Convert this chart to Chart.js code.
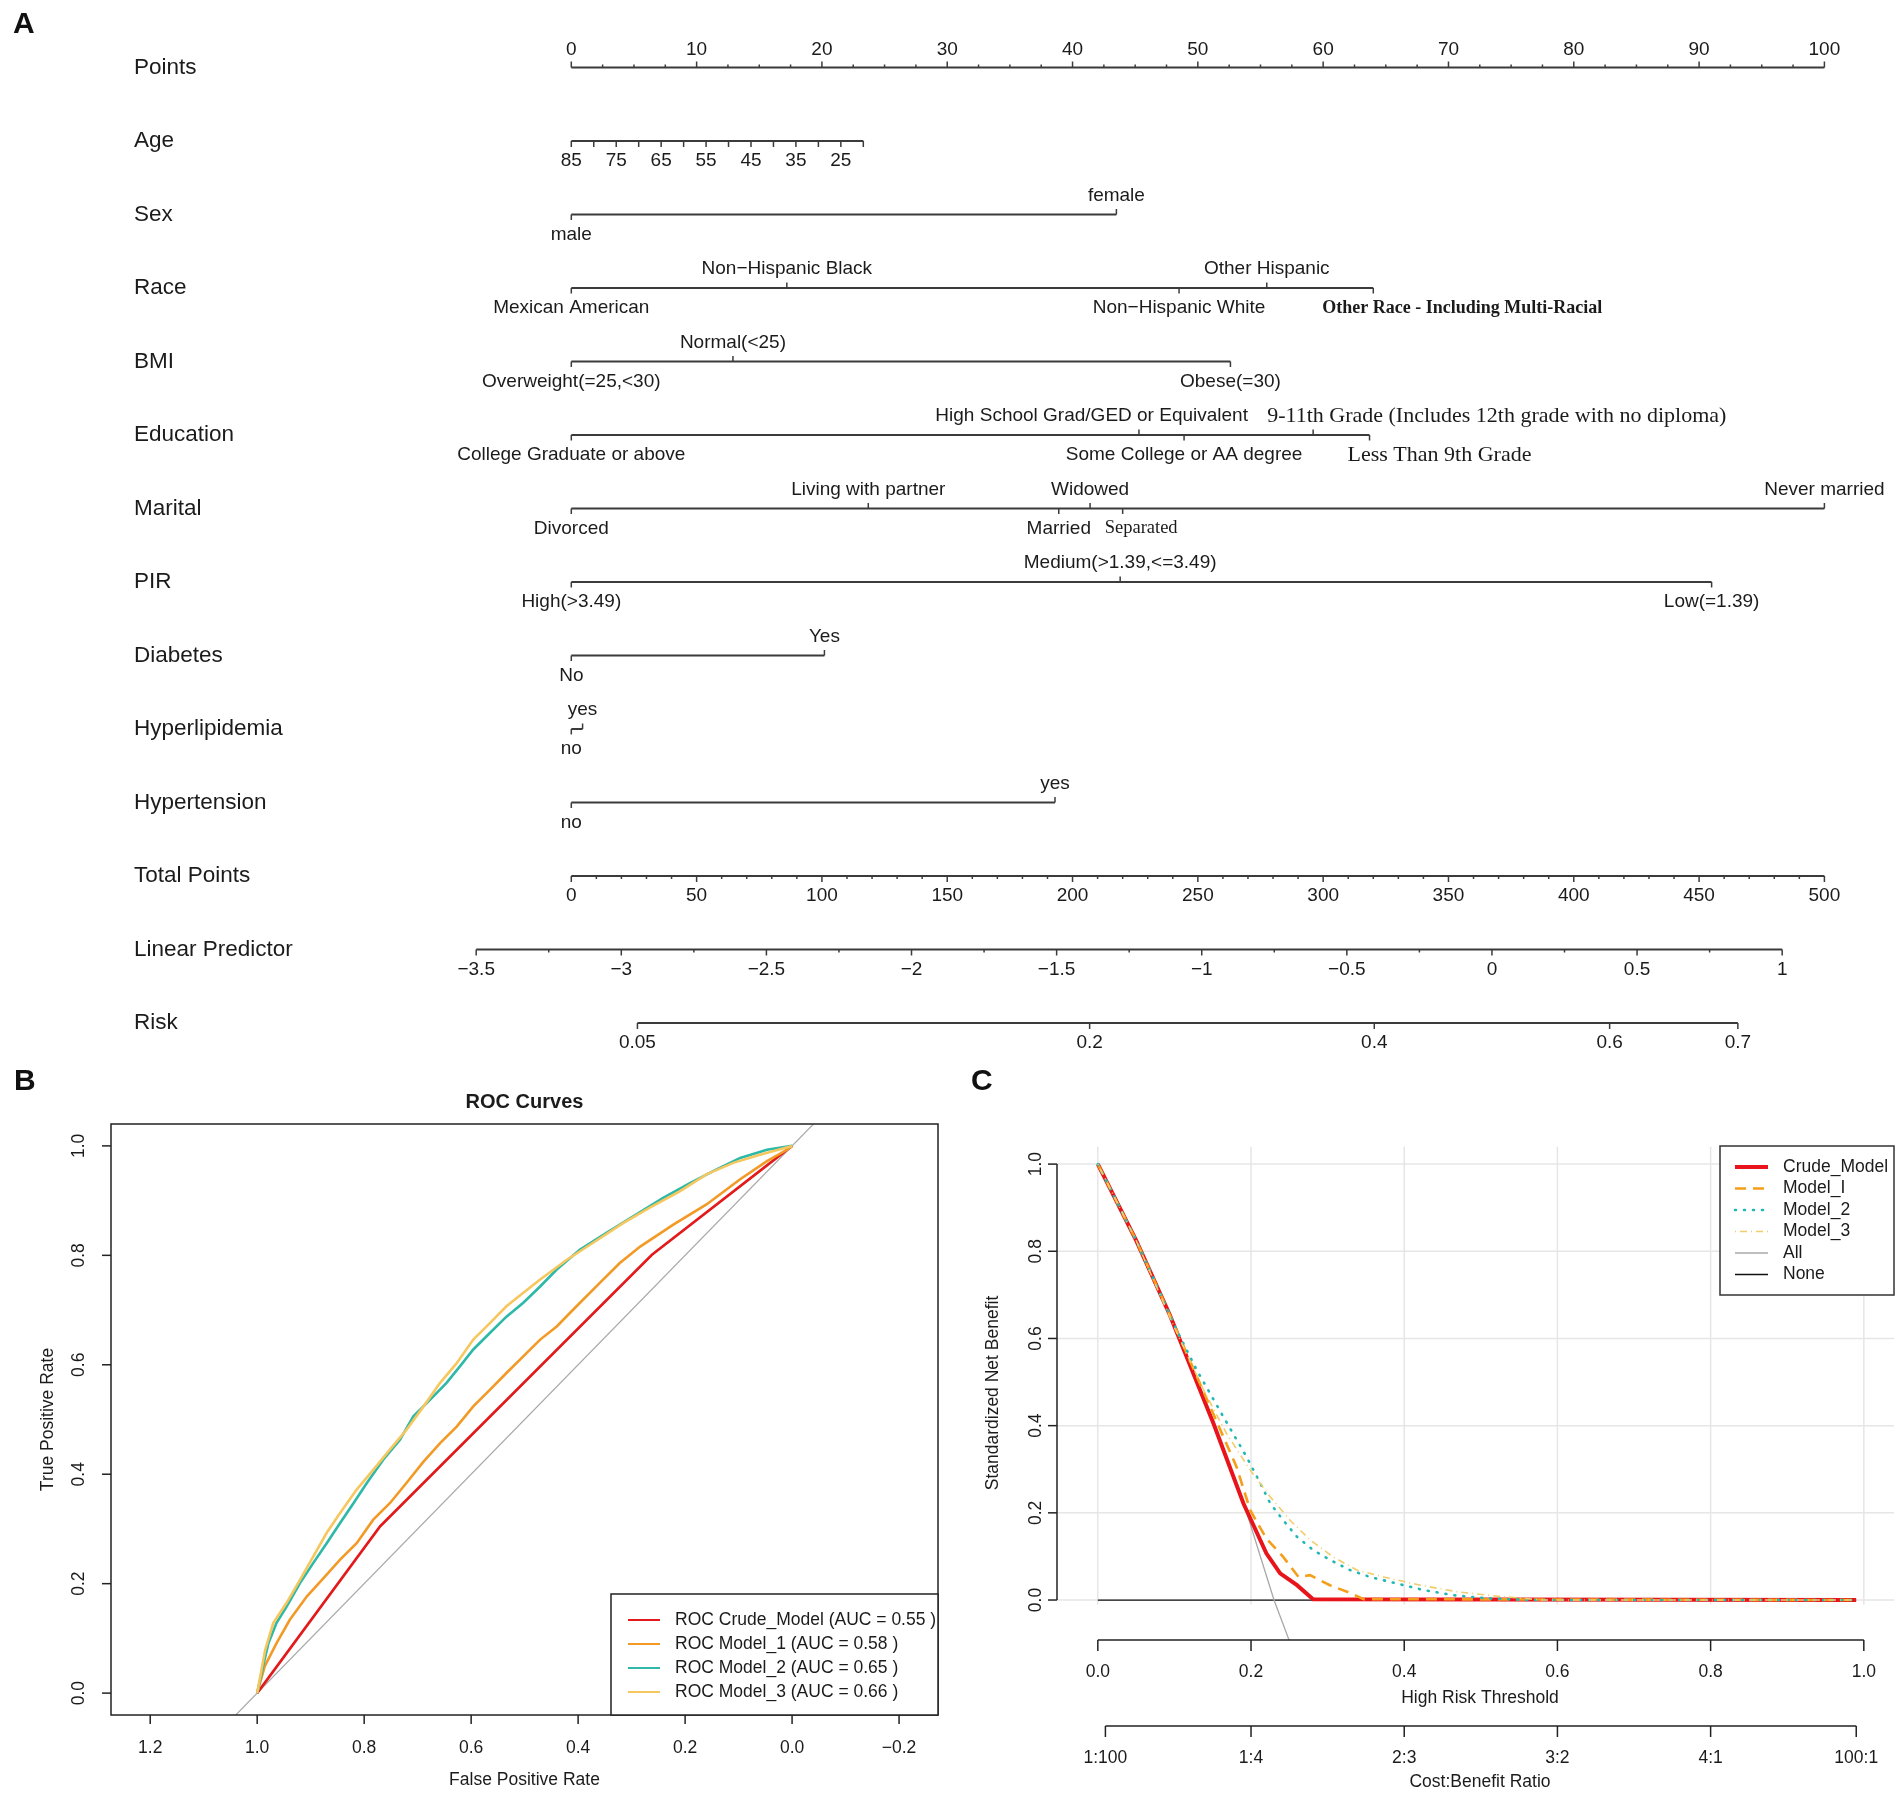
<!DOCTYPE html>
<html>
<head>
<meta charset="utf-8">
<title>Nomogram, ROC curves and decision curves</title>
<script src="https://cdn.jsdelivr.net/npm/chart.js@4.4.1/dist/chart.umd.min.js"></script>
<style>
  html, body { margin: 0; padding: 0; background: #fff; }
  #wrap { position: relative; width: 1902px; height: 1795px; font-family: "Liberation Sans", Arial, sans-serif; }
  canvas { position: absolute; }
  .tag { position: absolute; font-weight: bold; font-size: 30px; line-height: 1; color: #111; }
</style>
</head>
<body>
<div id="wrap">
  <canvas id="nomo" width="1902" height="1060" style="left:0;top:0"></canvas>
  <canvas id="roc" width="951" height="735" style="left:0;top:1060px"></canvas>
  <canvas id="dca" width="951" height="735" style="left:951px;top:1060px"></canvas>
  <div class="tag" style="left:13px;top:8px">A</div>
  <div class="tag" style="left:14px;top:1065px">B</div>
  <div class="tag" style="left:971px;top:1065px">C</div>
</div>
<script>
// ---------- panel A: nomogram values (points scale 0-100) ----------
const rowNames = ["Points", "Age", "Sex", "Race", "BMI", "Education", "Marital", "PIR",
  "Diabetes", "Hyperlipidemia", "Hypertension", "Total Points", "Linear Predictor", "Risk"];

const pointLabels = [0, 10, 20, 30, 40, 50, 60, 70, 80, 90, 100];
const pointMinorStep = 2.5;

const ageLabels = [85, 75, 65, 55, 45, 35, 25];
const ageMax = 85;
const ageMin = 20;
const agePtsPerYear = 0.3585;

const sexLevels = ["male", "female"];
const sexPts = [0, 43.5];
const raceLevels = ["Mexican American", "Non\u2212Hispanic Black", "Non\u2212Hispanic White",
  "Other Hispanic", "Other Race - Including Multi-Racial"];
const racePts = [0, 17.2, 48.5, 55.5, 64.0];
const bmiLevels = ["Overweight(=25,<30)", "Normal(<25)", "Obese(=30)"];
const bmiPts = [0, 12.9, 52.6];
const eduLevels = ["College Graduate or above", "High School Grad/GED or Equivalent",
  "Some College or AA degree", "9-11th Grade (Includes 12th grade with no diploma)", "Less Than 9th Grade"];
const eduPts = [0, 45.3, 48.9, 59.2, 63.7];
const maritalLevels = ["Divorced", "Living with partner", "Married", "Widowed", "Separated", "Never married"];
const maritalPts = [0, 23.7, 38.9, 41.4, 44.0, 100];
const pirLevels = ["High(>3.49)", "Medium(>1.39,<=3.49)", "Low(=1.39)"];
const pirPts = [0, 43.8, 91.0];
const diabetesLevels = ["No", "Yes"];
const diabetesPts = [0, 20.2];
const lipidLevels = ["no", "yes"];
const lipidPts = [0, 0.9];
const htnLevels = ["no", "yes"];
const htnPts = [0, 38.6];

const totalLabels = [0, 50, 100, 150, 200, 250, 300, 350, 400, 450, 500];
const totalMinorStep = 10;
const totalPerPoint = 5;

const lpLabels = [-3.5, -3, -2.5, -2, -1.5, -1, -0.5, 0, 0.5, 1];
const lpMinorStep = 0.25;
const lpAtZero = 73.47;   // points where linear predictor = 0
const lpSlope = 23.16;    // points per unit of linear predictor

const riskTicks = [0.05, 0.2, 0.4, 0.6, 0.7];
const riskLabels = ["0.05", "0.2", "0.4", "0.6", "0.7"];

// ---------- panel B: ROC curves (x = specificity, y = sensitivity) ----------
const rocNames = ["Crude_Model", "Model_1", "Model_2", "Model_3"];
const rocAuc = [0.55, 0.58, 0.65, 0.66];
const crudeSpec = [1, 0.770, 0.262, 0];
const crudeSens = [0, 0.305, 0.801, 1];
const m1Spec = [1, 0.986, 0.964, 0.939, 0.907, 0.876, 0.845, 0.814, 0.783, 0.752, 0.721, 0.689, 0.658, 0.627,
  0.596, 0.565, 0.534, 0.503, 0.471, 0.440, 0.409, 0.359, 0.322, 0.284, 0.222, 0.160, 0.097, 0.047, 0.004, 0];
const m1Sens = [0, 0.049, 0.091, 0.134, 0.177, 0.210, 0.244, 0.274, 0.317, 0.347, 0.384, 0.423, 0.457, 0.487,
  0.524, 0.554, 0.585, 0.615, 0.646, 0.670, 0.701, 0.750, 0.786, 0.816, 0.856, 0.893, 0.939, 0.972, 0.996, 1];
const m2Spec = [1, 0.989, 0.979, 0.964, 0.945, 0.920, 0.895, 0.870, 0.845, 0.820, 0.795, 0.764, 0.733, 0.708,
  0.677, 0.646, 0.621, 0.596, 0.565, 0.534, 0.503, 0.471, 0.440, 0.397, 0.347, 0.297, 0.241, 0.191, 0.141,
  0.097, 0.047, 0];
const m2Sens = [0, 0.049, 0.091, 0.128, 0.158, 0.201, 0.238, 0.274, 0.311, 0.347, 0.384, 0.427, 0.463, 0.506,
  0.536, 0.567, 0.597, 0.628, 0.658, 0.688, 0.713, 0.743, 0.774, 0.810, 0.841, 0.871, 0.905, 0.932, 0.957,
  0.978, 0.993, 1];
const m3Spec = [1, 0.985, 0.970, 0.945, 0.920, 0.895, 0.870, 0.845, 0.814, 0.783, 0.752, 0.721, 0.689, 0.658,
  0.627, 0.596, 0.565, 0.534, 0.503, 0.471, 0.421, 0.372, 0.316, 0.266, 0.210, 0.160, 0.110, 0.060, 0];
const m3Sens = [0, 0.079, 0.128, 0.165, 0.207, 0.250, 0.293, 0.329, 0.372, 0.408, 0.445, 0.481, 0.524, 0.567,
  0.603, 0.646, 0.676, 0.707, 0.731, 0.756, 0.792, 0.823, 0.859, 0.887, 0.917, 0.948, 0.969, 0.984, 1];
const chanceSpec = [1.04, -0.04];
const chanceSens = [-0.04, 1.04];
const rocXTicks = [1.2, 1.0, 0.8, 0.6, 0.4, 0.2, 0.0, -0.2];
const rocYTicks = [0.0, 0.2, 0.4, 0.6, 0.8, 1.0];

// ---------- panel C: decision curves ----------
const dcaNames = ["Crude_Model", "Model_I", "Model_2", "Model_3", "All", "None"];
const crudeThr = [0, 0.05, 0.094, 0.151, 0.19, 0.22, 0.238, 0.26, 0.281, 0.99];
const crudeNB = [1, 0.825, 0.654, 0.405, 0.222, 0.107, 0.061, 0.034, 0.002, 0];
const m1Thr = [0, 0.05, 0.094, 0.16, 0.181, 0.199, 0.22, 0.242, 0.262, 0.277, 0.303, 0.331, 0.347, 0.99];
const m1NB = [1, 0.825, 0.654, 0.39, 0.306, 0.206, 0.141, 0.099, 0.053, 0.057, 0.034, 0.015, 0.002, 0];
const m2Thr = [0, 0.05, 0.103, 0.129, 0.164, 0.194, 0.212, 0.225, 0.242, 0.26, 0.281, 0.303, 0.329, 0.355,
  0.39, 0.425, 0.464, 0.508, 0.56, 0.99];
const m2NB = [1, 0.825, 0.619, 0.528, 0.42, 0.329, 0.268, 0.222, 0.183, 0.145, 0.115, 0.092, 0.069, 0.053,
  0.038, 0.023, 0.011, 0.004, 0, 0];
const m3Thr = [0, 0.05, 0.1, 0.138, 0.168, 0.199, 0.225, 0.251, 0.277, 0.307, 0.338, 0.373, 0.421, 0.469,
  0.521, 0.58, 0.99];
const m3NB = [1, 0.825, 0.625, 0.482, 0.382, 0.298, 0.237, 0.183, 0.138, 0.099, 0.069, 0.053, 0.034, 0.019,
  0.009, 0, 0];
const allThr = [0, 0.05, 0.1, 0.15, 0.196, 0.23, 0.26];
const allNB = [1, 0.824, 0.628, 0.41, 0.191, 0, -0.14];
const noneThr = [0, 0.99];
const noneNB = [0, 0];
const dcaXTicks = [0, 0.2, 0.4, 0.6, 0.8, 1.0];
const dcaYTicks = [0, 0.2, 0.4, 0.6, 0.8, 1.0];
const costBenefitThr = [0.0099, 0.2, 0.4, 0.6, 0.8, 0.9901];
const costBenefitLabels = ["1:100", "1:4", "2:3", "3:2", "4:1", "100:1"];

// ---------- shared helpers ----------
const SANS = '"Liberation Sans", Arial, sans-serif';
const SERIF = '"Liberation Serif", "Times New Roman", serif';
const INK = "#1b1b1b";
const AXIS = "#3b3b3b";
const minus = s => String(s).replace("-", "\u2212");
const pairs = (xs, ys) => xs.map((v, i) => ({ x: v, y: ys[i] }));

function seg(ctx, x1, y1, x2, y2) {
  ctx.beginPath();
  ctx.moveTo(x1, y1);
  ctx.lineTo(x2, y2);
  ctx.stroke();
}
function rotText(ctx, txt, x, y) {
  ctx.save();
  ctx.translate(x, y);
  ctx.rotate(-Math.PI / 2);
  ctx.textAlign = "center";
  ctx.textBaseline = "middle";
  ctx.fillText(txt, 0, 0);
  ctx.restore();
}
function range(a, b, step) {
  const out = [];
  for (let v = a; v <= b + 1e-9; v += step) out.push(+v.toFixed(6));
  return out;
}

// ---------- panel A chart ----------
const ageToPts = a => (ageMax - a) * agePtsPerYear;
const totalToPts = t => t / totalPerPoint;
const lpToPts = lp => lpAtZero + lpSlope * lp;
const riskToPts = r => lpToPts(Math.log(r / (1 - r)));

const varRows = [
  { row: 2, labels: sexLevels, pts: sexPts },
  { row: 3, labels: raceLevels, pts: racePts },
  { row: 4, labels: bmiLevels, pts: bmiPts },
  { row: 5, labels: eduLevels, pts: eduPts },
  { row: 6, labels: maritalLevels, pts: maritalPts },
  { row: 7, labels: pirLevels, pts: pirPts },
  { row: 8, labels: diabetesLevels, pts: diabetesPts },
  { row: 9, labels: lipidLevels, pts: lipidPts },
  { row: 10, labels: htnLevels, pts: htnPts }
];

// a few level labels were set in another face / nudged in the original figure
const labelStyle = {
  "High School Grad/GED or Equivalent": { align: "right", dx: 109 },
  "Other Race - Including Multi-Racial": { font: "bold 18px " + SERIF, align: "left", dx: -51 },
  "9-11th Grade (Includes 12th grade with no diploma)": { font: "22px " + SERIF, align: "left", dx: -46 },
  "Less Than 9th Grade": { font: "22px " + SERIF, align: "left", dx: -22 },
  "Separated": { font: "18.5px " + SERIF, align: "left", dx: -18 }
};

const spans = [
  [0, 100],
  [ageToPts(ageMax), ageToPts(ageMin)]
];
varRows.forEach(v => spans.push([Math.min(...v.pts), Math.max(...v.pts)]));
spans.push([totalToPts(0), totalToPts(500)]);
spans.push([lpToPts(lpLabels[0]), lpToPts(lpLabels[lpLabels.length - 1])]);
spans.push([riskToPts(riskTicks[0]), riskToPts(riskTicks[riskTicks.length - 1])]);

const nomoSets = spans.map((s, i) => ({
  data: [{ x: s[0], y: i }, { x: s[1], y: i }],
  showLine: true,
  borderColor: AXIS,
  borderWidth: 2,
  pointRadius: 0
}));

const nomoMarks = {
  id: "nomoMarks",
  afterDatasetsDraw(chart) {
    const { ctx, scales: { x, y } } = chart;
    const px = v => x.getPixelForValue(v);
    const py = r => y.getPixelForValue(r);
    const LAB = "19px " + SANS;
    ctx.save();
    ctx.strokeStyle = AXIS;
    ctx.fillStyle = INK;
    ctx.lineWidth = 1.5;

    ctx.font = "22.5px " + SANS;
    ctx.textAlign = "left";
    ctx.textBaseline = "middle";
    rowNames.forEach((n, i) => ctx.fillText(n, 134, py(i)));

    ctx.font = LAB;
    ctx.textAlign = "center";

    // Points axis, ticks up
    let yy = py(0);
    range(0, 100, pointMinorStep).forEach(v => seg(ctx, px(v), yy, px(v), yy - (v % 10 === 0 ? 6 : 3)));
    pointLabels.forEach(v => ctx.fillText(v, px(v), yy - 18));

    // Age axis, ticks down
    yy = py(1);
    range(ageMin, ageMax, 5).forEach(a => seg(ctx, px(ageToPts(a)), yy, px(ageToPts(a)), yy + 6));
    ageLabels.forEach(a => ctx.fillText(a, px(ageToPts(a)), yy + 20));

    // categorical rows
    varRows.forEach(v => {
      const ry = py(v.row);
      const order = v.pts.map((p, i) => i).sort((a, b) => v.pts[a] - v.pts[b]);
      order.forEach((idx, rank) => {
        const up = rank % 2 === 1;
        const xx = px(v.pts[idx]);
        seg(ctx, xx, ry, xx, ry + (up ? -5.5 : 5.5));
        const txt = v.labels[idx];
        const st = labelStyle[txt] || {};
        ctx.font = st.font || LAB;
        ctx.textAlign = st.align || "center";
        ctx.fillText(txt, xx + (st.dx || 0), up ? ry - 19 : ry + 20);
      });
    });
    ctx.font = LAB;
    ctx.textAlign = "center";

    // Total points
    yy = py(11);
    range(0, 500, totalMinorStep).forEach(t => {
      const xx = px(totalToPts(t));
      seg(ctx, xx, yy, xx, yy + (t % 50 === 0 ? 6 : 3));
    });
    totalLabels.forEach(t => ctx.fillText(t, px(totalToPts(t)), yy + 20));

    // Linear predictor
    yy = py(12);
    range(lpLabels[0], lpLabels[lpLabels.length - 1], lpMinorStep).forEach(lp => {
      const xx = px(lpToPts(lp));
      const major = Math.abs(lp * 2 - Math.round(lp * 2)) < 1e-6;
      seg(ctx, xx, yy, xx, yy + (major ? 6 : 3));
    });
    lpLabels.forEach(lp => ctx.fillText(minus(lp), px(lpToPts(lp)), yy + 20));

    // Risk
    yy = py(13);
    riskTicks.forEach((r, i) => {
      const xx = px(riskToPts(r));
      seg(ctx, xx, yy, xx, yy + 6);
      ctx.fillText(riskLabels[i], xx, yy + 20);
    });
    ctx.restore();
  }
};

const NOMO_X0 = 571.3, NOMO_PX_PER_PT = 12.531, NOMO_Y0 = 67.5, NOMO_ROW = 73.5;
new Chart(document.getElementById("nomo"), {
  type: "scatter",
  data: { datasets: nomoSets },
  options: {
    animation: false,
    responsive: false,
    devicePixelRatio: 1,
    layout: { padding: 0 },
    plugins: { legend: { display: false }, tooltip: { enabled: false } },
    scales: {
      x: { type: "linear", display: false, bounds: "data",
           min: -NOMO_X0 / NOMO_PX_PER_PT, max: (1902 - NOMO_X0) / NOMO_PX_PER_PT },
      y: { type: "linear", display: false, reverse: true, bounds: "data",
           min: -NOMO_Y0 / NOMO_ROW, max: (1060 - NOMO_Y0) / NOMO_ROW }
    }
  },
  plugins: [nomoMarks]
});

// ---------- panel B chart ----------
const rocColors = ["#e31a1c", "#f39a26", "#2db8a8", "#f6c75e"];
const rocSeries = [[crudeSpec, crudeSens], [m1Spec, m1Sens], [m2Spec, m2Sens], [m3Spec, m3Sens]];
const rocSets = rocSeries.map((s, i) => ({
  label: "ROC " + rocNames[i] + " (AUC = " + rocAuc[i].toFixed(2) + " )",
  data: pairs(s[0], s[1]),
  showLine: true,
  borderColor: rocColors[i],
  borderWidth: 2.6,
  pointRadius: 0,
  order: 4 - i
}));
rocSets.push({
  label: "chance",
  data: pairs(chanceSpec, chanceSens),
  showLine: true,
  borderColor: "#a9a9a9",
  borderWidth: 1.2,
  pointRadius: 0,
  order: 9
});

const rocFrame = {
  id: "rocFrame",
  afterDatasetsDraw(chart) {
    const { ctx, chartArea: a, scales: { x, y } } = chart;
    ctx.save();
    ctx.strokeStyle = "#222";
    ctx.lineWidth = 1.5;
    ctx.strokeRect(a.left, a.top, a.right - a.left, a.bottom - a.top);
    ctx.fillStyle = INK;
    ctx.font = "17.5px " + SANS;
    rocYTicks.forEach(v => {
      const yy = y.getPixelForValue(v);
      seg(ctx, a.left, yy, a.left - 9, yy);
      rotText(ctx, v.toFixed(1), 79, yy);
    });
    ctx.textAlign = "center";
    ctx.textBaseline = "middle";
    rocXTicks.forEach(v => {
      const xx = x.getPixelForValue(v);
      seg(ctx, xx, a.bottom, xx, a.bottom + 9);
      ctx.fillText(minus(v.toFixed(1)), xx, 688);
    });
    const cx = (a.left + a.right) / 2;
    ctx.fillText("False Positive Rate", cx, 720);
    rotText(ctx, "True Positive Rate", 48, (a.top + a.bottom) / 2);
    ctx.font = "bold 20px " + SANS;
    ctx.fillText("ROC Curves", cx, 42);

    // legend box, bottom right
    const bx = 611, by = 534, bw = a.right - 611, bh = a.bottom - 534;
    ctx.fillStyle = "#fff";
    ctx.fillRect(bx, by, bw, bh);
    ctx.strokeRect(bx, by, bw, bh);
    ctx.font = "17.5px " + SANS;
    ctx.textAlign = "left";
    rocNames.forEach((n, i) => {
      const ly = by + 26 + i * 24;
      ctx.strokeStyle = rocColors[i];
      ctx.lineWidth = 2;
      seg(ctx, bx + 17, ly, bx + 49, ly);
      ctx.fillStyle = INK;
      ctx.fillText(rocSets[i].label, bx + 64, ly);
    });
    ctx.restore();
  }
};

new Chart(document.getElementById("roc"), {
  type: "scatter",
  data: { datasets: rocSets },
  options: {
    animation: false,
    responsive: false,
    devicePixelRatio: 1,
    layout: { padding: { left: 111, right: 13, top: 64, bottom: 80 } },
    plugins: { legend: { display: false }, tooltip: { enabled: false } },
    scales: {
      x: { type: "linear", display: false, reverse: true, bounds: "data", min: -0.2728, max: 1.2733 },
      y: { type: "linear", display: false, bounds: "data", min: -0.04, max: 1.04 }
    }
  },
  plugins: [rocFrame]
});

// ---------- panel C chart ----------
const dcaStyles = [
  { color: "#e8141c", width: 4, dash: [] },
  { color: "#f59e1b", width: 2.6, dash: [11, 7] },
  { color: "#1fb8b4", width: 2.6, dash: [1, 8], cap: "round" },
  { color: "#f0cc6a", width: 1.6, dash: [1, 4, 7, 4] },
  { color: "#a8a8a8", width: 1.3, dash: [] },
  { color: "#111111", width: 1.3, dash: [] }
];
const dcaSeries = [[crudeThr, crudeNB], [m1Thr, m1NB], [m2Thr, m2NB], [m3Thr, m3NB], [allThr, allNB], [noneThr, noneNB]];
const dcaOrder = [4, 3, 2, 1, 5, 6];
const dcaSets = dcaSeries.map((s, i) => ({
  label: dcaNames[i],
  data: pairs(s[0], s[1]),
  showLine: true,
  borderColor: dcaStyles[i].color,
  borderWidth: dcaStyles[i].width,
  borderDash: dcaStyles[i].dash,
  borderCapStyle: dcaStyles[i].cap || "butt",
  pointRadius: 0,
  order: dcaOrder[i]
}));

const dcaFrame = {
  id: "dcaFrame",
  beforeDatasetsDraw(chart) {
    const { ctx, chartArea: a, scales: { x, y } } = chart;
    ctx.save();
    ctx.strokeStyle = "#e6e6e6";
    ctx.lineWidth = 1.5;
    dcaXTicks.forEach(v => seg(ctx, x.getPixelForValue(v), a.top, x.getPixelForValue(v), y.getPixelForValue(-0.01)));
    dcaYTicks.forEach(v => seg(ctx, a.left, y.getPixelForValue(v), a.right, y.getPixelForValue(v)));
    ctx.restore();
  },
  afterDatasetsDraw(chart) {
    const { ctx, chartArea: a, scales: { x, y } } = chart;
    ctx.save();
    ctx.strokeStyle = "#222";
    ctx.fillStyle = INK;
    ctx.lineWidth = 1.5;
    ctx.font = "17.5px " + SANS;
    // y axis
    seg(ctx, a.left, y.getPixelForValue(0), a.left, y.getPixelForValue(1));
    dcaYTicks.forEach(v => {
      const yy = y.getPixelForValue(v);
      seg(ctx, a.left, yy, a.left - 9, yy);
      rotText(ctx, v.toFixed(1), 85, yy);
    });
    rotText(ctx, "Standardized Net Benefit", 42, 333);
    // threshold axis
    ctx.textAlign = "center";
    ctx.textBaseline = "middle";
    seg(ctx, x.getPixelForValue(0), a.bottom, x.getPixelForValue(1), a.bottom);
    dcaXTicks.forEach(v => {
      const xx = x.getPixelForValue(v);
      seg(ctx, xx, a.bottom, xx, a.bottom + 11);
      ctx.fillText(v.toFixed(1), xx, 612);
    });
    ctx.fillText("High Risk Threshold", 529, 638);
    // cost:benefit axis
    const cy = 666;
    seg(ctx, x.getPixelForValue(costBenefitThr[0]), cy, x.getPixelForValue(costBenefitThr[5]), cy);
    costBenefitThr.forEach((t, i) => {
      const xx = x.getPixelForValue(t);
      seg(ctx, xx, cy, xx, cy + 11);
      ctx.fillText(costBenefitLabels[i], xx, 698);
    });
    ctx.fillText("Cost:Benefit Ratio", 529, 722);

    // legend box, top right
    const bx = 769, by = 86, bw = a.right - 769, bh = 149;
    ctx.fillStyle = "#fff";
    ctx.fillRect(bx, by, bw, bh);
    ctx.strokeStyle = "#333";
    ctx.strokeRect(bx, by, bw, bh);
    ctx.textAlign = "left";
    dcaNames.forEach((n, i) => {
      const ly = by + 21 + i * 21.5;
      const st = dcaStyles[i];
      ctx.strokeStyle = st.color;
      ctx.lineWidth = st.width;
      ctx.lineCap = st.cap || "butt";
      ctx.setLineDash(st.dash);
      seg(ctx, bx + 15, ly, bx + 48, ly);
      ctx.setLineDash([]);
      ctx.lineCap = "butt";
      ctx.fillStyle = INK;
      ctx.fillText(n, bx + 63, ly);
    });
    ctx.restore();
  }
};

new Chart(document.getElementById("dca"), {
  type: "scatter",
  data: { datasets: dcaSets },
  options: {
    animation: false,
    responsive: false,
    devicePixelRatio: 1,
    layout: { padding: { left: 106, right: 8, top: 86.7, bottom: 155 } },
    plugins: { legend: { display: false }, tooltip: { enabled: false } },
    scales: {
      x: { type: "linear", display: false, bounds: "data", min: -0.0533, max: 1.0394 },
      y: { type: "linear", display: false, bounds: "data", min: -0.0917, max: 1.0399 }
    }
  },
  plugins: [dcaFrame]
});
</script>
</body>
</html>
